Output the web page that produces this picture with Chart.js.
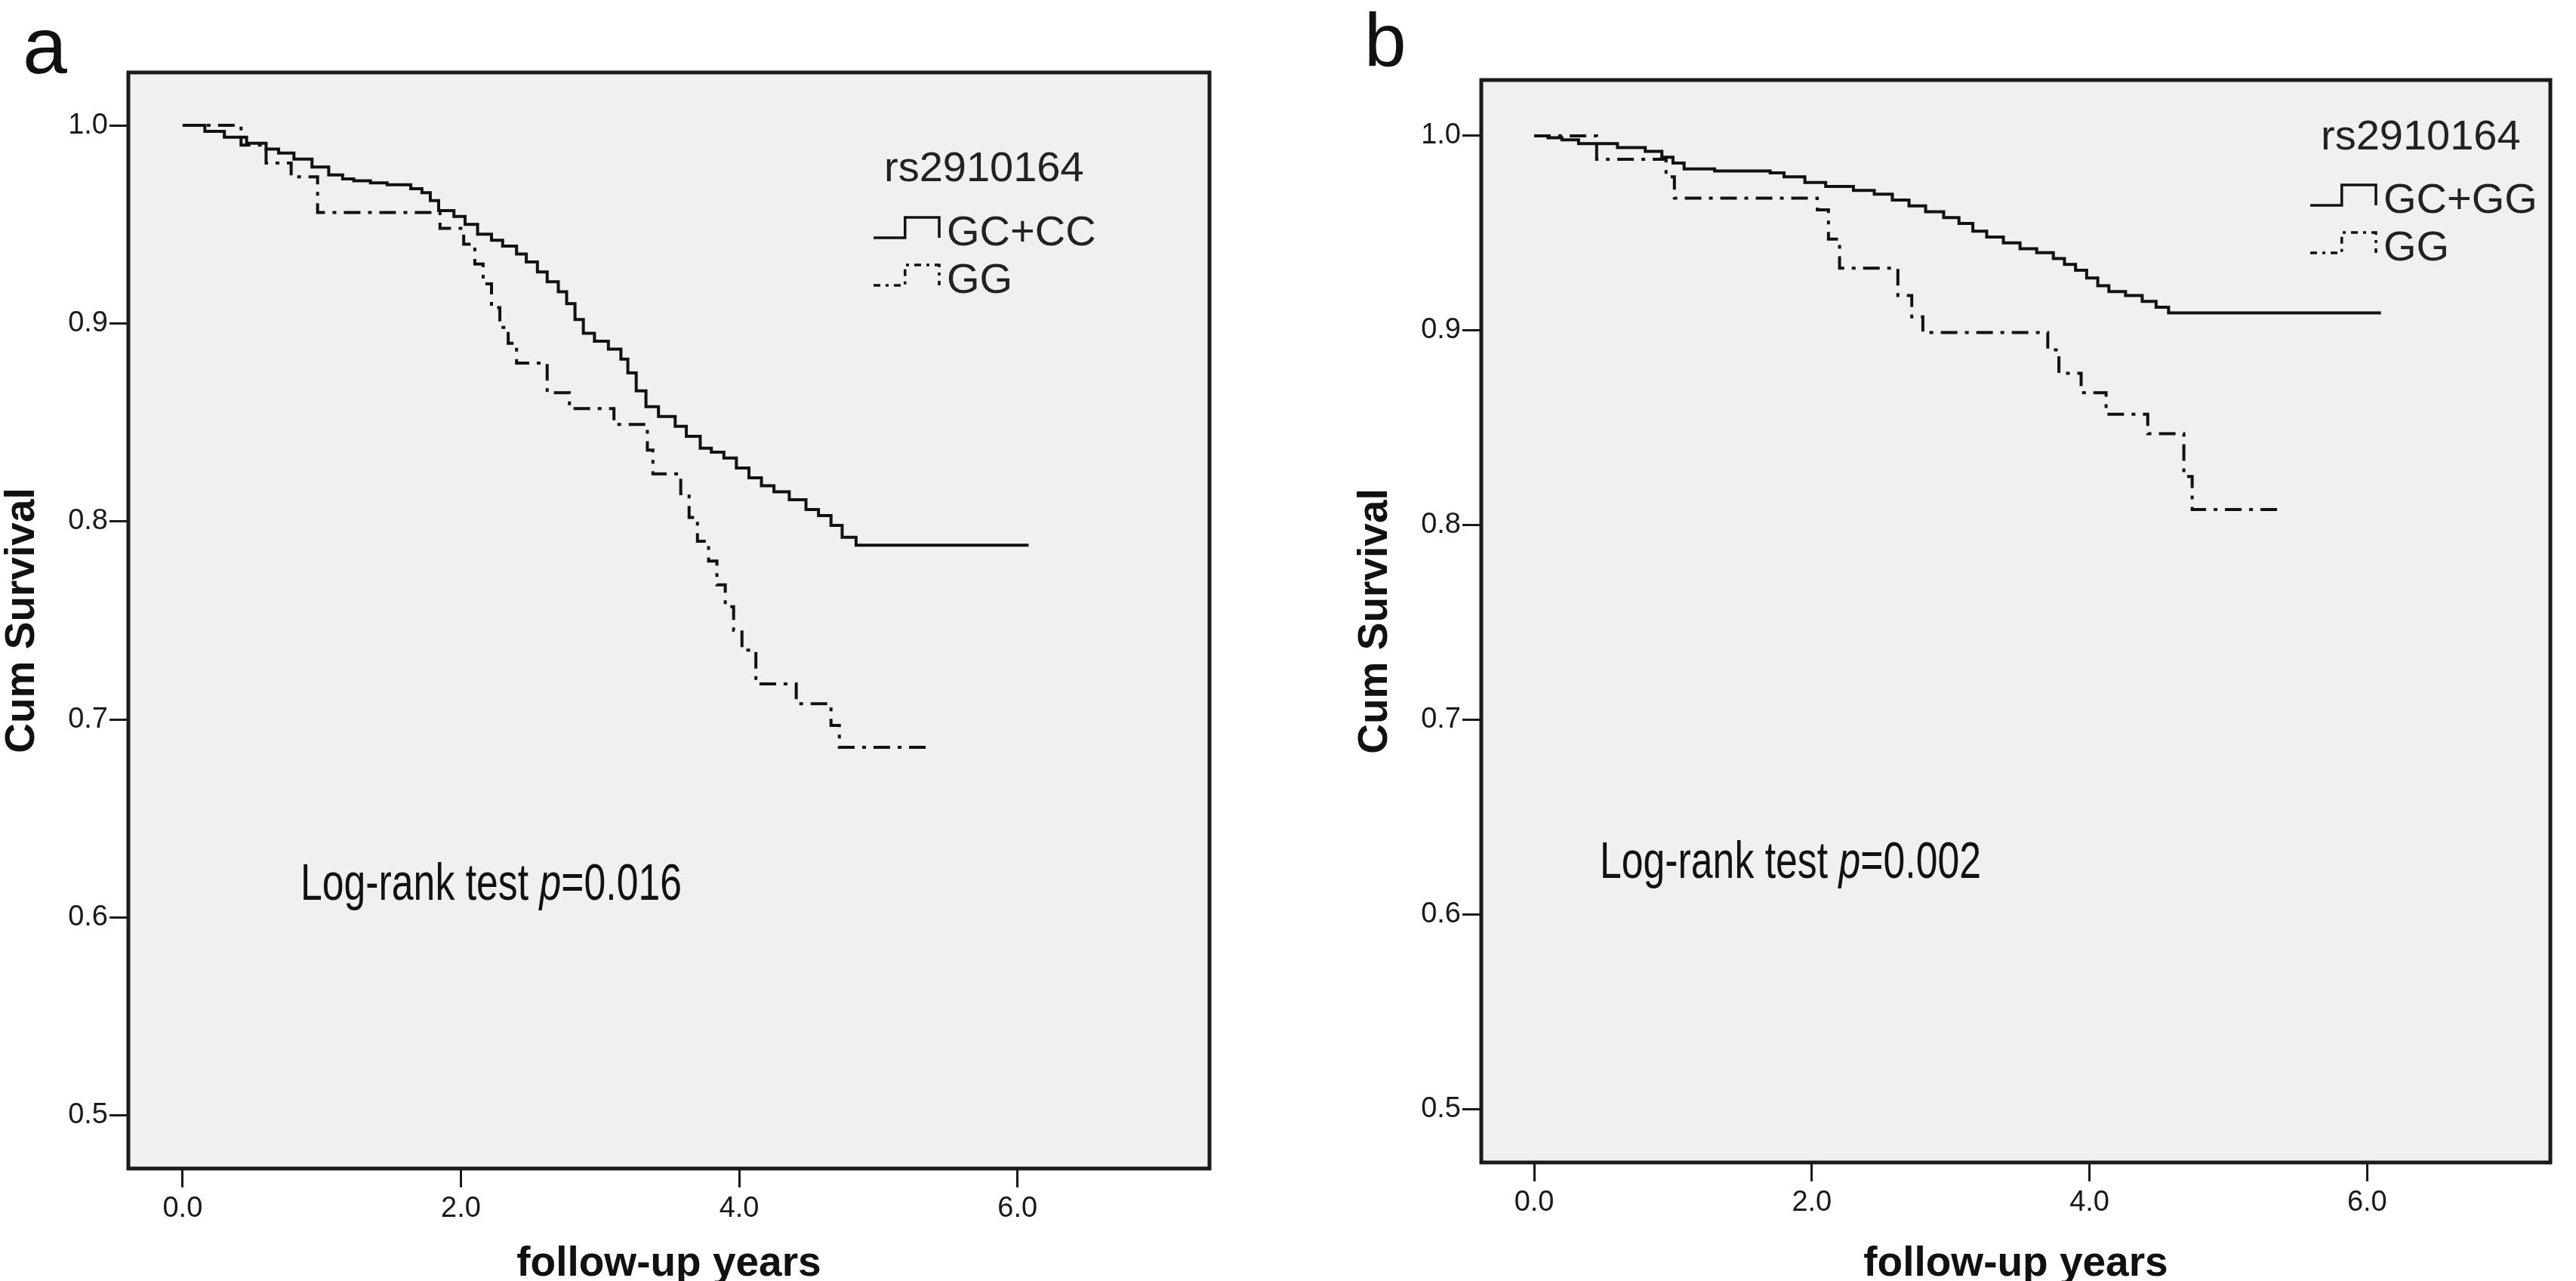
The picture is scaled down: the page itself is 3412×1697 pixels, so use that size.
<!DOCTYPE html>
<html>
<head>
<meta charset="utf-8">
<script src="https://cdn.jsdelivr.net/npm/chart.js@4.4.1/dist/chart.umd.min.js"></script>
<style>
html, body { margin: 0; padding: 0; background: #fff; overflow: hidden; }
#wrap { position: relative; width: 3412px; height: 1697px; }
canvas { position: absolute; top: 0; }
#chartA { left: 0; }
#chartB { left: 1706px; }
</style>
</head>
<body>
<div id="wrap">
  <canvas id="chartA" width="1706" height="1697"></canvas>
  <canvas id="chartB" width="1706" height="1697"></canvas>
</div>
<script>
// tick labels
var xTickValues = [0, 2, 4, 6];
var xTickLabels = ["0.0", "2.0", "4.0", "6.0"];
var yTickValues = [0.5, 0.6, 0.7, 0.8, 0.9, 1.0];
var yTickLabels = ["0.5", "0.6", "0.7", "0.8", "0.9", "1.0"];

// panel a - GC+CC (solid)
var aSolidYears = [0, 0.16, 0.30, 0.46, 0.60, 0.69, 0.80, 0.93, 1.05, 1.15, 1.23, 1.35, 1.47, 1.64, 1.72, 1.78, 1.84, 1.95, 2.03, 2.12, 2.22, 2.30, 2.40, 2.47, 2.55, 2.62, 2.70, 2.76, 2.82, 2.88, 2.96, 3.06, 3.15, 3.20, 3.26, 3.33, 3.42, 3.54, 3.62, 3.72, 3.80, 3.89, 3.98, 4.07, 4.16, 4.25, 4.36, 4.48, 4.57, 4.66, 4.74, 4.84, 6.08];
var aSolidSurv = [1.0, 0.997, 0.994, 0.991, 0.988, 0.986, 0.983, 0.979, 0.975, 0.973, 0.972, 0.971, 0.970, 0.968, 0.966, 0.962, 0.957, 0.954, 0.950, 0.945, 0.942, 0.939, 0.935, 0.931, 0.926, 0.921, 0.916, 0.910, 0.902, 0.895, 0.891, 0.887, 0.882, 0.875, 0.866, 0.858, 0.853, 0.848, 0.843, 0.837, 0.835, 0.832, 0.827, 0.822, 0.818, 0.815, 0.811, 0.806, 0.803, 0.798, 0.792, 0.788, 0.788];
// panel a - GG (dashed)
var aDashYears = [0, 0.42, 0.60, 0.78, 0.97, 1.85, 2.02, 2.10, 2.16, 2.22, 2.28, 2.34, 2.40, 2.62, 2.78, 3.10, 3.34, 3.38, 3.58, 3.64, 3.70, 3.78, 3.84, 3.90, 3.96, 4.02, 4.12, 4.41, 4.66, 4.72, 5.37];
var aDashSurv = [1.0, 0.990, 0.981, 0.974, 0.956, 0.948, 0.940, 0.930, 0.920, 0.908, 0.898, 0.890, 0.880, 0.865, 0.857, 0.849, 0.836, 0.824, 0.814, 0.802, 0.790, 0.780, 0.768, 0.757, 0.745, 0.735, 0.718, 0.708, 0.697, 0.686, 0.686];

// panel b - GC+GG (solid)
var bSolidYears = [0, 0.10, 0.20, 0.32, 0.60, 0.80, 0.92, 1.00, 1.08, 1.30, 1.70, 1.80, 1.95, 2.10, 2.30, 2.45, 2.58, 2.70, 2.82, 2.95, 3.06, 3.16, 3.26, 3.38, 3.50, 3.62, 3.74, 3.82, 3.90, 3.98, 4.06, 4.14, 4.26, 4.38, 4.48, 4.57, 6.10];
var bSolidSurv = [1.0, 0.999, 0.998, 0.996, 0.994, 0.992, 0.989, 0.986, 0.983, 0.982, 0.981, 0.979, 0.976, 0.974, 0.972, 0.970, 0.967, 0.964, 0.961, 0.958, 0.955, 0.951, 0.948, 0.945, 0.942, 0.940, 0.937, 0.934, 0.931, 0.927, 0.923, 0.920, 0.918, 0.915, 0.912, 0.909, 0.909];
// panel b - GG (dashed)
var bDashYears = [0, 0.45, 0.95, 1.01, 2.04, 2.12, 2.20, 2.62, 2.72, 2.80, 3.70, 3.78, 3.94, 4.12, 4.42, 4.68, 4.74, 5.40];
var bDashSurv = [1.0, 0.988, 0.979, 0.968, 0.962, 0.947, 0.932, 0.918, 0.907, 0.899, 0.890, 0.878, 0.868, 0.857, 0.847, 0.825, 0.808, 0.808];

var legendTitle = "rs2910164";
var aSeriesNames = ["GC+CC", "GG"];
var bSeriesNames = ["GC+GG", "GG"];
var aPValue = "0.016";
var bPValue = "0.002";

var FONT = "'Liberation Sans', Arial, sans-serif";
var INK = "#111";

function toPoints(years, surv) {
    var pts = [];
    for (var i = 0; i < years.length; ++i) {
        pts.push({ x: years[i], y: surv[i] });
    }
    return pts;
}

// step symbol used in the legend
function drawStepSymbol(ctx, x, yTop, yBot, w, dash) {
    ctx.save();
    ctx.strokeStyle = INK;
    ctx.lineWidth = 3.5;
    ctx.setLineDash(dash);
    ctx.beginPath();
    ctx.moveTo(x, yBot);
    ctx.lineTo(x + w * 0.48, yBot);
    ctx.lineTo(x + w * 0.48, yTop);
    ctx.lineTo(x + w, yTop);
    ctx.lineTo(x + w, yBot);
    ctx.stroke();
    ctx.restore();
}

function panelPlugin(panel) {
    return {
        id: "panel" + panel.letter,
        beforeDraw: function(chart) {
            var ctx = chart.ctx;
            var area = chart.chartArea;
            ctx.save();
            ctx.fillStyle = "#fff";
            ctx.fillRect(0, 0, chart.width, chart.height);
            ctx.fillStyle = "#f0f0f0";
            ctx.fillRect(area.left, area.top, area.right - area.left, area.bottom - area.top);
            ctx.restore();
        },
        afterDraw: function(chart) {
            var ctx = chart.ctx;
            var area = chart.chartArea;
            ctx.save();
            // frame
            ctx.strokeStyle = "#1a1a1a";
            ctx.lineWidth = 5;
            ctx.strokeRect(area.left, area.top, area.right - area.left, area.bottom - area.top);

            ctx.fillStyle = INK;
            ctx.textBaseline = "alphabetic";

            // panel letter
            ctx.font = panel.letterSize + "px " + FONT;
            ctx.textAlign = "left";
            ctx.fillText(panel.letter, panel.letterX, panel.letterY);

            // axis titles
            ctx.font = "bold 55px " + FONT;
            ctx.textAlign = "center";
            ctx.textBaseline = "middle";
            ctx.fillText("follow-up years", (area.left + area.right) / 2, 1675);
            ctx.save();
            ctx.translate(area.left - 140, (area.top + area.bottom) / 2);
            ctx.rotate(-Math.PI / 2);
            ctx.fillText("Cum Survival", 0, 0);
            ctx.restore();

            // legend
            ctx.textAlign = "left";
            ctx.textBaseline = "alphabetic";
            ctx.font = "56px " + FONT;
            ctx.fillStyle = "#222";
            ctx.fillText(legendTitle, panel.legX + 14, panel.legY[0]);
            drawStepSymbol(ctx, panel.legX, panel.legY[1] - 37, panel.legY[1] - 10, 87, []);
            ctx.fillText(panel.names[0], panel.legX + 97, panel.legY[1]);
            drawStepSymbol(ctx, panel.legX, panel.legY[2] - 37, panel.legY[2] - 10, 87, [9, 7, 4, 7]);
            ctx.fillText(panel.names[1], panel.legX + 97, panel.legY[2]);

            // log-rank annotation, condensed to the reference width
            ctx.fillStyle = INK;
            var normal = "68px " + FONT;
            var italic = "italic 68px " + FONT;
            ctx.font = normal;
            var w1 = ctx.measureText("Log-rank test ").width;
            var w3 = ctx.measureText("=" + panel.p).width;
            ctx.font = italic;
            var w2 = ctx.measureText("p").width;
            var sx = 505 / (w1 + w2 + w3);
            ctx.save();
            ctx.translate(panel.pX, panel.pY);
            ctx.scale(sx, 1);
            ctx.font = normal;
            ctx.fillText("Log-rank test ", 0, 0);
            ctx.font = italic;
            ctx.fillText("p", w1, 0);
            ctx.font = normal;
            ctx.fillText("=" + panel.p, w1 + w2, 0);
            ctx.restore();

            ctx.restore();
        }
    };
}

function initPanel(canvasId, panel) {
    var tickFont = { family: FONT, size: 38 };
    return new Chart(document.getElementById(canvasId).getContext("2d"), {
        type: "line",
        data: {
            datasets: [{
                label: panel.names[0],
                data: toPoints(panel.solidYears, panel.solidSurv),
                borderColor: INK,
                borderWidth: 4,
                stepped: "before",
                pointRadius: 0,
                fill: false
            }, {
                label: panel.names[1],
                data: toPoints(panel.dashYears, panel.dashSurv),
                borderColor: INK,
                borderWidth: 4,
                borderDash: [22, 10, 5, 10],
                stepped: "before",
                pointRadius: 0,
                fill: false
            }]
        },
        options: {
            responsive: false,
            animation: false,
            devicePixelRatio: 1,
            layout: {
                padding: { left: panel.padLeft, right: panel.padRight, top: panel.padTop, bottom: 0 }
            },
            plugins: {
                legend: { display: false },
                tooltip: { enabled: false }
            },
            scales: {
                x: {
                    type: "linear",
                    min: panel.xMin,
                    max: panel.xMax,
                    afterBuildTicks: function(scale) {
                        scale.ticks = xTickValues.map(function(v) { return { value: v }; });
                    },
                    afterFit: function(scale) { scale.height = panel.xAxisHeight; },
                    border: { display: false },
                    grid: { drawOnChartArea: false, drawTicks: true, tickLength: 25, tickWidth: 3, tickColor: "#1a1a1a" },
                    ticks: {
                        padding: 6,
                        maxRotation: 0,
                        color: "#1a1a1a",
                        font: tickFont,
                        callback: function(v, i) { return xTickLabels[i]; }
                    }
                },
                y: {
                    type: "linear",
                    min: panel.yMin,
                    max: panel.yMax,
                    afterBuildTicks: function(scale) {
                        scale.ticks = yTickValues.map(function(v) { return { value: v }; });
                    },
                    afterFit: function(scale) { scale.width = 170; },
                    border: { display: false },
                    grid: { drawOnChartArea: false, drawTicks: true, tickLength: 25, tickWidth: 3, tickColor: "#1a1a1a" },
                    ticks: {
                        padding: 2,
                        color: "#1a1a1a",
                        font: tickFont,
                        callback: function(v, i) { return yTickLabels[i]; }
                    }
                }
            }
        },
        plugins: [panelPlugin(panel)]
    });
}

initPanel("chartA", {
    letter: "a", letterX: 30, letterY: 97, letterSize: 106,
    padLeft: 0, padRight: 104, padTop: 96, xAxisHeight: 149,
    xMin: -0.39, xMax: 7.38, yMin: 0.4733, yMax: 1.0267,
    solidYears: aSolidYears, solidSurv: aSolidSurv,
    dashYears: aDashYears, dashSurv: aDashSurv,
    names: aSeriesNames, p: aPValue,
    legX: 1157, legY: [240, 325, 388],
    pX: 398, pY: 1192
});

initPanel("chartB", {
    letter: "b", letterX: 101, letterY: 88, letterSize: 100,
    padLeft: 86, padRight: 34, padTop: 106, xAxisHeight: 157,
    xMin: -0.381, xMax: 7.32, yMin: 0.4725, yMax: 1.0287,
    solidYears: bSolidYears, solidSurv: bSolidSurv,
    dashYears: bDashYears, dashSurv: bDashSurv,
    names: bSeriesNames, p: bPValue,
    legX: 1354, legY: [198, 282, 345],
    pX: 413, pY: 1163
});
</script>
</body>
</html>
